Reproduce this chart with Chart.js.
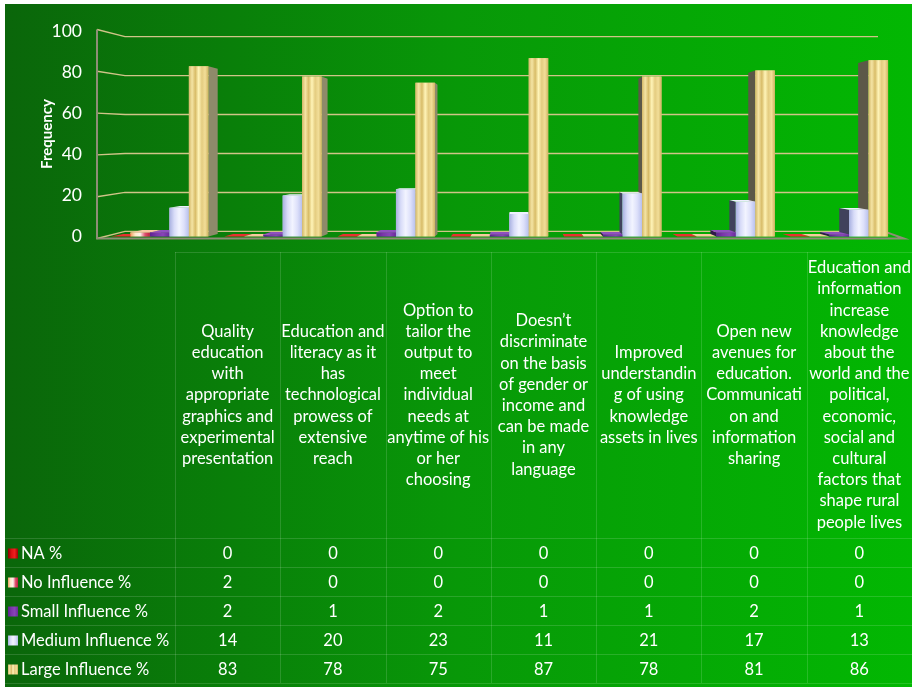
<!DOCTYPE html>
<html>
<head>
<meta charset="utf-8">
<script src="https://cdn.jsdelivr.net/npm/chart.js@4.4.1/dist/chart.umd.min.js"></script>
<style>
  html, body { margin: 0; padding: 0; background: #ffffff; }
  canvas { display: block; }
</style>
</head>
<body>
<canvas id="influenceChart" width="912" height="687"></canvas>
<script>
// Statements (one per column of the data table)
const categories = [
  ["Quality", "education", "with", "appropriate", "graphics and", "experimental", "presentation"],
  ["Education and", "literacy as it", "has", "technological", "prowess of", "extensive", "reach"],
  ["Option to", "tailor the", "output to", "meet", "individual", "needs at", "anytime of his", "or her", "choosing"],
  ["Doesn\u2019t", "discriminate", "on the basis", "of gender or", "income and", "can be made", "in any", "language"],
  ["Improved", "understandin", "g of using", "knowledge", "assets in lives"],
  ["Open new", "avenues for", "education.", "Communicati", "on and", "information", "sharing"],
  ["Education and", "information", "increase", "knowledge", "about the", "world and the", "political,", "economic,", "social and", "cultural", "factors that", "shape rural", "people lives"]
];

const seriesNames = ["NA %", "No Influence %", "Small Influence %", "Medium Influence %", "Large Influence %"];

const naValues     = [0, 0, 0, 0, 0, 0, 0];
const noInfluence  = [2, 0, 0, 0, 0, 0, 0];
const smallInfl    = [2, 1, 2, 1, 1, 2, 1];
const mediumInfl   = [14, 20, 23, 11, 21, 17, 13];
const largeInfl    = [83, 78, 75, 87, 78, 81, 86];

const yTicks = [0, 20, 40, 60, 80, 100];

const seriesValues = [naValues, noInfluence, smallInfl, mediumInfl, largeInfl];

// colour stops for the front face of each series (left -> right)
const faceStops = [
  ["#8a0000", "#d81010", "#ee2020", "#a00000"],
  ["#f0a060", "#ffe8c8", "#fff4ec", "#e05070", "#c02040"],
  ["#5e2290", "#7a36aa", "#8844b8", "#6a2a9c"],
  ["#a8b0e0", "#d8dcf8", "#f2f4ff", "#dde0fa", "#b8c0ec"],
  ["#d4b868", "#f4e4a4", "#d8bc68", "#fff4b8", "#e4cc80", "#f2de98", "#d0b462"]
];
const baseColors = ["#c00000", "#f4b890", "#7030a0", "#c8d0f4", "#e8d088"];
const sideLight = ["#900000", "#c08050", "#5a2888", "#8088b0", "#8e8a6a"];
const sideDark  = ["#500000", "#704030", "#30184a", "#40425c", "#5c5848"];
const topColors = ["#e83030", "#f8c8a0", "#9050c0", "#eef0ff", "#fff0b8"];

// simple one-point perspective used for the column sides and caps
const VP = { x: 520, y: 150 };
const DEPTH = 0.03;
const back = (x, y) => [x + (VP.x - x) * DEPTH, y + (VP.y - y) * DEPTH];

function hGradient(ctx, x0, x1, stops) {
  const g = ctx.createLinearGradient(x0, 0, x1, 0);
  stops.forEach((c, i) => g.addColorStop(i / (stops.length - 1), c));
  return g;
}

function poly(ctx, pts, fill) {
  ctx.beginPath();
  ctx.moveTo(pts[0][0], pts[0][1]);
  for (let i = 1; i < pts.length; i++) ctx.lineTo(pts[i][0], pts[i][1]);
  ctx.closePath();
  ctx.fillStyle = fill;
  ctx.fill();
}

const FONT = "Lato, 'Open Sans', sans-serif";

// green backdrop, walls and gridlines
const backdropPlugin = {
  id: "backdrop",
  beforeDraw(chart) {
    const ctx = chart.ctx;
    ctx.save();
    ctx.fillStyle = "#ffffff";
    ctx.fillRect(0, 0, chart.width, chart.height);
    const g = ctx.createLinearGradient(5, 0, chart.width, 0);
    g.addColorStop(0, "#0a660a");
    g.addColorStop(0.5, "#089808");
    g.addColorStop(1, "#02b802");
    ctx.fillStyle = g;
    ctx.fillRect(5, 4, chart.width - 5, chart.height - 4);
    ctx.restore();
  },
  beforeDatasetsDraw(chart) {
    const ctx = chart.ctx;
    const y = chart.scales.y;
    const { left, right } = chart.chartArea;
    const mid = (y.top + y.bottom) / 2;
    const x0 = left - 6, x1 = left + 22, xEnd = right - 18;
    ctx.save();
    ctx.lineWidth = 1.4;
    yTicks.forEach(v => {
      const py = y.getPixelForValue(v);
      const yb = mid + (py - mid) * 0.95;
      const yf = mid + (py - mid) * 1.02;
      ctx.strokeStyle = "#d0c488";
      ctx.beginPath();
      ctx.moveTo(x0, yf);
      ctx.lineTo(x1, yb);
      ctx.lineTo(xEnd, yb);
      ctx.stroke();
    });
    // axis + floor edge
    const yTop = mid + (y.getPixelForValue(100) - mid) * 1.02;
    const yZero = mid + (y.getPixelForValue(0) - mid) * 1.02;
    ctx.strokeStyle = "#8e8e76";
    ctx.lineWidth = 2;
    ctx.beginPath();
    ctx.moveTo(x0, yTop);
    ctx.lineTo(x0, yZero);
    ctx.lineTo(right + 8, yZero);
    ctx.lineTo(xEnd + 6, mid + (y.getPixelForValue(0) - mid) * 0.95);
    ctx.stroke();

    // column sides, drawn behind the front faces
    chart.data.datasets.forEach((ds, di) => {
      chart.getDatasetMeta(di).data.forEach(el => {
        const { x, y: top, base, width } = el.getProps(["x", "y", "base", "width"], true);
        const l = x - width / 2, r = x + width / 2;
        const edge = x < VP.x ? r : l;
        const bt = back(edge, top), bb = back(edge, base);
        if (Math.abs(bt[0] - edge) < 0.5) return;
        poly(ctx, [[edge, top], bt, bb, [edge, base]], x < VP.x ? sideLight[di] : sideDark[di]);
      });
    });
    ctx.restore();
  },
  afterDatasetsDraw(chart) {
    const ctx = chart.ctx;
    ctx.save();
    chart.data.datasets.forEach((ds, di) => {
      chart.getDatasetMeta(di).data.forEach(el => {
        const { x, y: top, base, width } = el.getProps(["x", "y", "base", "width"], true);
        const l = x - width / 2, r = x + width / 2;
        if (base - top > 0.5) {
          ctx.fillStyle = hGradient(ctx, l, r, faceStops[di]);
          ctx.fillRect(l, top, width, base - top);
        }
        // cap, visible for columns that end below eye level
        const bl = back(l, top), br = back(r, top);
        if (bl[1] < top - 0.3) {
          poly(ctx, [[l, top], [r, top], br, bl], topColors[di]);
        }
      });
    });
    ctx.restore();
  }
};

// data table underneath the plot
const tablePlugin = {
  id: "dataTable",
  afterDraw(chart) {
    const ctx = chart.ctx;
    const tableLeft = 175, tableRight = chart.width;
    const colW = (tableRight - tableLeft) / categories.length;
    const headTop = 252, headBottom = 538, rowH = 29;
    ctx.save();
    ctx.strokeStyle = "rgba(255,255,255,0.14)";
    ctx.lineWidth = 1;

    // cell borders
    ctx.beginPath();
    ctx.moveTo(tableLeft, headTop + 0.5);
    ctx.lineTo(tableRight, headTop + 0.5);
    for (let c = 0; c <= categories.length; c++) {
      const cx = Math.round(tableLeft + c * colW) + 0.5;
      ctx.moveTo(cx, headTop);
      ctx.lineTo(cx, headBottom + rowH * seriesNames.length);
    }
    for (let r = 0; r <= seriesNames.length; r++) {
      const ry = Math.round(headBottom + r * rowH) + 0.5;
      ctx.moveTo(5, ry);
      ctx.lineTo(tableRight, ry);
    }
    ctx.stroke();

    ctx.fillStyle = "#ffffff";
    ctx.textAlign = "center";
    ctx.textBaseline = "middle";
    ctx.font = "16.5px " + FONT;

    // category text, centred in each header cell
    const lh = 21.2;
    categories.forEach((lines, c) => {
      const cx = tableLeft + (c + 0.5) * colW;
      const cy = (headTop + headBottom) / 2;
      const y0 = cy - (lines.length - 1) * lh / 2;
      lines.forEach((t, i) => ctx.fillText(t, cx, y0 + i * lh));
    });

    // series rows
    seriesNames.forEach((name, s) => {
      const cy = headBottom + (s + 0.5) * rowH + 1;
      ctx.fillStyle = hGradient(ctx, 8, 18, faceStops[s]);
      ctx.fillRect(8, cy - 5, 10, 10);
      ctx.fillStyle = "#ffffff";
      ctx.textAlign = "left";
      ctx.fillText(name, 21, cy);
      ctx.textAlign = "center";
      seriesValues[s].forEach((v, c) => {
        ctx.fillText(String(v), tableLeft + (c + 0.5) * colW, cy);
      });
    });
    ctx.restore();
  }
};

const ctx = document.getElementById("influenceChart").getContext("2d");

new Chart(ctx, {
  type: "bar",
  data: {
    labels: categories,
    datasets: seriesNames.map((name, i) => ({
      label: name,
      data: seriesValues[i],
      backgroundColor: baseColors[i],
      borderWidth: 0
    }))
  },
  options: {
    responsive: false,
    animation: false,
    layout: { padding: { left: 38, right: 16, top: 16.5, bottom: 450.5 } },
    datasets: { bar: { categoryPercentage: 0.86, barPercentage: 1 } },
    plugins: {
      legend: { display: false },
      tooltip: { enabled: false }
    },
    scales: {
      x: { display: false },
      y: {
        min: 0,
        max: 100,
        ticks: {
          stepSize: 20,
          color: "#ffffff",
          padding: 21,
          font: { family: FONT, size: 17.5 }
        },
        grid: { display: false, drawTicks: false },
        border: { display: false },
        title: {
          display: true,
          text: "Frequency",
          color: "#ffffff",
          padding: 0,
          font: { family: FONT, size: 15, weight: "bold" }
        },
        afterFit(scale) { scale.width = 65; }
      }
    }
  },
  plugins: [backdropPlugin, tablePlugin]
});
</script>
</body>
</html>
